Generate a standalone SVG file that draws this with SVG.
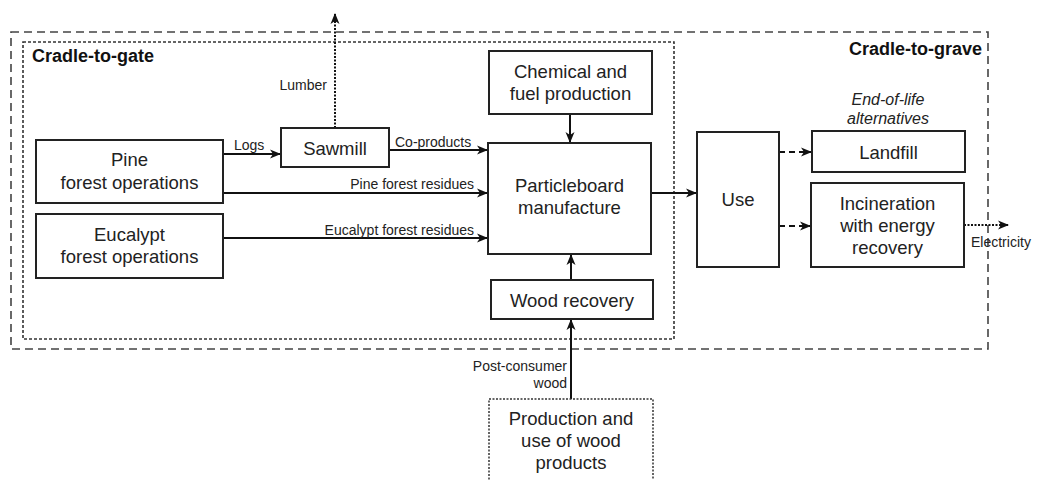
<svg xmlns="http://www.w3.org/2000/svg" width="1055" height="480" viewBox="0 0 1055 480">
<style>
.box{fill:#fff;stroke:#222;stroke-width:2}
.t{font-family:"Liberation Sans",Arial,sans-serif;font-size:18.5px;fill:#222;text-anchor:middle}
.lb{font-family:"Liberation Sans",Arial,sans-serif;font-size:14px;fill:#222}
.b{font-family:"Liberation Sans",Arial,sans-serif;font-size:18px;font-weight:bold;fill:#111}
.it{font-family:"Liberation Sans",Arial,sans-serif;font-size:16px;font-style:italic;fill:#222;text-anchor:middle}
.ln{fill:none;stroke:#111;stroke-width:2}
</style>
<defs>
<marker id="ah" markerUnits="userSpaceOnUse" markerWidth="12" markerHeight="10" refX="11" refY="5" orient="auto">
<path d="M0,0.5 L11,5 L0,9.5 L3,5 z" fill="#111"/>
</marker>
</defs>
<g id="cradle-to-grave">
<rect x="11" y="32" width="977" height="317" fill="none" stroke="#444" stroke-width="1.6" stroke-dasharray="8,5"/>
<text class="b" x="982" y="55" text-anchor="end">Cradle-to-grave</text>
</g>
<g id="cradle-to-gate">
<rect x="23" y="42" width="651" height="297" fill="none" stroke="#333" stroke-width="1.6" stroke-dasharray="3,2"/>
<text class="b" x="32" y="62">Cradle-to-gate</text>
</g>
<g id="connectors">
<line class="ln" x1="335" y1="128" x2="335" y2="13" stroke-dasharray="2,1.5" stroke-width="1.3" marker-end="url(#ah)"/>
<line class="ln" x1="223" y1="154" x2="281" y2="154" marker-end="url(#ah)"/>
<line class="ln" x1="389" y1="150" x2="488" y2="150" marker-end="url(#ah)"/>
<line class="ln" x1="223" y1="193" x2="488" y2="193" marker-end="url(#ah)"/>
<line class="ln" x1="223" y1="238" x2="488" y2="238" marker-end="url(#ah)"/>
<line class="ln" x1="570" y1="114" x2="570" y2="143" marker-end="url(#ah)"/>
<line class="ln" x1="571" y1="280" x2="571" y2="254" marker-end="url(#ah)"/>
<line class="ln" x1="571" y1="399" x2="571" y2="319" marker-end="url(#ah)"/>
<line class="ln" x1="651" y1="193" x2="697" y2="193" marker-end="url(#ah)"/>
<line class="ln" x1="779" y1="152" x2="812" y2="152" stroke-dasharray="6,4" marker-end="url(#ah)"/>
<line class="ln" x1="779" y1="226" x2="811" y2="226" stroke-dasharray="6,4" marker-end="url(#ah)"/>
<line class="ln" x1="964" y1="225" x2="1009" y2="225" stroke-dasharray="2,1.5" stroke-width="1.3" marker-end="url(#ah)"/>
<text class="lb" x="327" y="90" text-anchor="end">Lumber</text>
<text class="lb" x="234" y="150">Logs</text>
<text class="lb" x="395" y="147">Co-products</text>
<text class="lb" x="474" y="189" text-anchor="end">Pine forest residues</text>
<text class="lb" x="474" y="235" text-anchor="end">Eucalypt forest residues</text>
<text class="lb" x="971" y="247">Electricity</text>
<text class="lb" x="567" y="371" text-anchor="end">Post-consumer</text>
<text class="lb" x="567" y="388" text-anchor="end">wood</text>
</g>
<g id="sawmill">
<rect class="box" x="281" y="128" width="108" height="39"/>
<text class="t" x="335" y="154.5">Sawmill</text>
</g>
<g id="pine">
<rect class="box" x="36" y="140" width="187" height="63"/>
<text class="t" x="129.5" y="166">Pine</text>
<text class="t" x="129.5" y="189">forest operations</text>
</g>
<g id="eucalypt">
<rect class="box" x="36" y="214" width="187" height="64"/>
<text class="t" x="129.5" y="241">Eucalypt</text>
<text class="t" x="129.5" y="263">forest operations</text>
</g>
<g id="chemical">
<rect class="box" x="489" y="51" width="163" height="63"/>
<text class="t" x="570.5" y="78">Chemical and</text>
<text class="t" x="570.5" y="100">fuel production</text>
</g>
<g id="particleboard">
<rect class="box" x="488" y="143" width="163" height="111"/>
<text class="t" x="569.5" y="192">Particleboard</text>
<text class="t" x="569.5" y="214">manufacture</text>
</g>
<g id="wood-recovery">
<rect class="box" x="491" y="280" width="162" height="39"/>
<text class="t" x="572" y="306.5">Wood recovery</text>
</g>
<g id="use">
<rect class="box" x="697" y="132" width="82" height="135"/>
<text class="t" x="738" y="206">Use</text>
</g>
<g id="end-of-life-label">
<text class="it" x="888" y="105">End-of-life</text>
<text class="it" x="888" y="124">alternatives</text>
</g>
<g id="landfill">
<rect class="box" x="812" y="131" width="153" height="41"/>
<text class="t" x="888.5" y="158.5">Landfill</text>
</g>
<g id="incineration">
<rect class="box" x="811" y="183" width="153" height="84"/>
<text class="t" x="887.5" y="210">Incineration</text>
<text class="t" x="887.5" y="232">with energy</text>
<text class="t" x="887.5" y="254">recovery</text>
</g>
<g id="production">
<rect x="489" y="399" width="164" height="95" fill="#fff" stroke="#333" stroke-width="1.5" stroke-dasharray="2,1.5"/>
<text class="t" x="571" y="424.5">Production and</text>
<text class="t" x="571" y="447">use of wood</text>
<text class="t" x="571" y="469">products</text>
</g>
</svg>
